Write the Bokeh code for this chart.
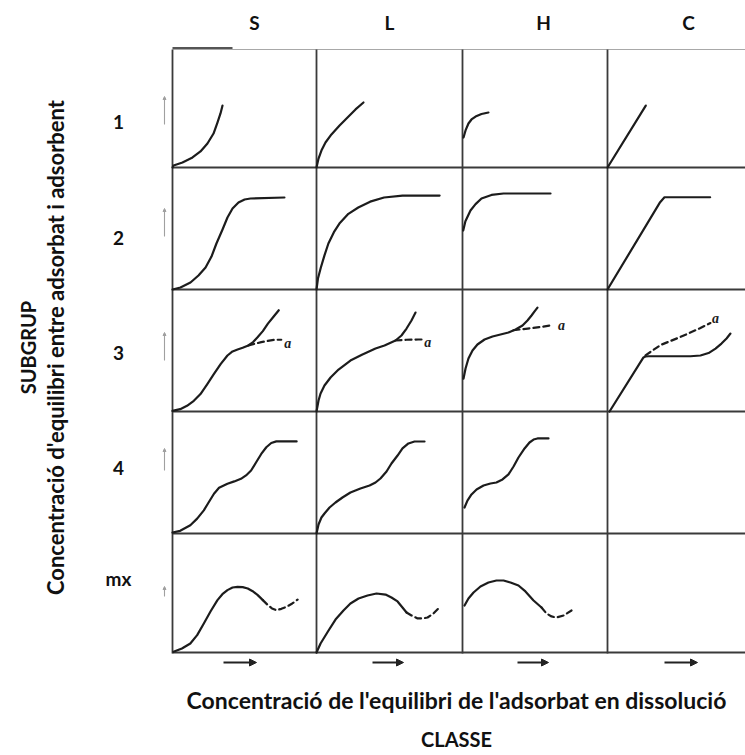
import math
from bokeh.plotting import figure
from bokeh.models import Range1d, Arrow, NormalHead
from bokeh.core.properties import value
from bokeh.embed import file_html
from bokeh.resources import INLINE

# ---------------- data ----------------
classes = ["S", "L", "H", "C"]
subgroups = ["1", "2", "3", "4", "mx"]
y_title = "Concentració d'equilibri entre adsorbat i adsorbent"
y_group = "SUBGRUP"
x_title = "Concentració de l'equilibri de l'adsorbat en dissolució"
x_group = "CLASSE"
plateau_mark = "a"

# each curve: concentration in solution (% of cell width) -> amount adsorbed (% of cell height)
# subgroup 1
S1_x = [0, 0.7, 6.9, 13.8, 19.3, 24.1, 28.3, 31, 33.1, 34.5]
S1_y = [0, 1.7, 4.2, 8.5, 13.6, 20.3, 28.8, 38.1, 45.8, 52.5]
L1_x = [0, 1.4, 3.4, 6.2, 10.3, 15.9, 21.4, 26.9, 32.4]
L1_y = [0, 7.6, 14.4, 21.2, 28, 35.6, 42.4, 49.2, 55.1]
H1_x = [0.7, 2.1, 4.1, 6.2, 9, 13.1, 17.9]
H1_y = [25.4, 31.4, 37.3, 40.7, 43.2, 45.3, 46.6]
C1_x = [0, 26.4]
C1_y = [0, 52.5]
# subgroup 2
S2_x = [0, 5.5, 12.4, 17.9, 22.8, 26.9, 30.3, 34.5, 37.9, 41.4, 45.5, 49.7, 53.8, 77.2]
S2_y = [0, 1.6, 5.7, 11.5, 18, 27, 37.7, 49.2, 59, 66.4, 71.3, 73.8, 74.6, 75.4]
L2_x = [0, 1, 3, 5.5, 8.2, 12, 15.8, 22, 28.8, 37, 46.6, 59.3, 84.9]
L2_y = [0, 9, 18, 28, 37.7, 47, 54, 62, 67.2, 72, 75.4, 77, 77]
H2_x = [0.5, 2, 5.5, 9, 13.1, 20, 28.3, 60.7]
H2_y = [48.4, 56, 64.8, 70, 74.6, 77.5, 78.7, 78.7]
C2_x = [0, 36.3, 39.3, 70.8]
C2_y = [0, 71.6, 75.6, 75.6]
# subgroup 3 (solid) and its branch "a" (dashed)
S3_x = [0, 5.3, 10, 14.7, 19.3, 24, 28.6, 33.3, 37.9, 41.4, 44.9, 48.4, 52.3, 55.6, 58.8, 62.3, 65.8, 69.5, 73.3]
S3_y = [0.5, 1.9, 4.7, 8.8, 14.3, 22.5, 30.8, 39, 45.9, 49.2, 50.8, 52.2, 54.1, 56.9, 61, 65.9, 72, 77.5, 83]
S3a_x = [52.3, 61.2, 70.5, 75]
S3a_y = [54.1, 56.9, 58.8, 58.8]
L3_x = [0, 1.4, 2.8, 5.5, 9.7, 15.2, 23.4, 31.7, 40.7, 46.9, 54.5, 58.6, 62.1, 65.5, 68.3]
L3_y = [0, 9, 14.8, 21.3, 27.9, 34.4, 41.8, 46.7, 51.6, 54.1, 58.2, 62.3, 68, 74.6, 81.1]
L3a_x = [54.5, 62, 70, 73.3]
L3a_y = [58.2, 58.8, 59, 59]
H3_x = [0.7, 2.1, 4.1, 6.9, 10.3, 15.2, 20.7, 26.2, 31.7, 36.6, 41.4, 44.8, 47.6, 49.7, 51.7]
H3_y = [27, 35.2, 43.4, 50, 54.9, 59, 61.5, 63.1, 64.8, 67.2, 70.5, 74.6, 78.7, 82, 85.2]
H3a_x = [35.2, 45, 55, 60.7]
H3a_y = [66.6, 68, 69.5, 70.5]
C3_x = [1.4, 24.8, 26.2, 28.3, 57.2, 64.1, 69.7, 74.5, 78.6, 82.1, 84.8]
C3_y = [0, 44.3, 45.1, 45.3, 45.3, 45.9, 47.9, 51.6, 55.7, 59.8, 63.9]
C3a_x = [26.2, 36.6, 50.3, 64.1, 71]
C3a_y = [46, 54.5, 61.1, 68.4, 72.5]
# subgroup 4
S4_x = [0, 5.3, 12.3, 17, 21.6, 25.1, 28.6, 32.1, 37.9, 42.6, 47.2, 50.7, 54.2, 57.7, 61.2, 64.7, 68.1, 71.6, 75.1, 85.6]
S4_y = [0.8, 2.2, 6.8, 12.2, 19, 25.8, 32.6, 37.5, 40.8, 42.7, 44.8, 47.6, 51.6, 58.4, 65.2, 70.7, 74.2, 75.5, 75.5, 75.5]
L4_x = [0, 1.4, 3.4, 5.5, 9, 13.1, 17.9, 23.4, 30.3, 36.6, 40.7, 44.1, 48.3, 51.7, 55.9, 59.3, 63.4, 67.6, 74.5]
L4_y = [0, 7.4, 13.1, 16.4, 21.3, 25.4, 29.5, 33.6, 36.9, 39.3, 41.8, 45.1, 50.8, 57.4, 63.9, 69.7, 73.8, 75.4, 75.4]
H4_x = [1.4, 3.4, 6.2, 9.7, 14.5, 19.3, 23.4, 27.6, 31.7, 35.2, 38.6, 42.8, 46.2, 49, 51.7, 59.3]
H4_y = [21.3, 27, 32, 36.1, 39.3, 41, 41.8, 44.3, 48.4, 54.9, 62.3, 69.7, 74.6, 77, 77.9, 77.9]
# subgroup mx (solid) and its continuation (dashed)
S5_x = [0.7, 6.5, 12.3, 17, 21.6, 26.3, 31, 34.4, 37.9, 41.4, 44.9, 48.4, 51.9, 55.3, 58.8, 62.3]
S5_y = [0.6, 3.4, 7.6, 14.6, 24.4, 34.7, 44, 49, 52.4, 54.6, 55.2, 54.9, 53.8, 51.5, 48.2, 44]
S5d_x = [62.3, 65.8, 68.6, 71.6, 75.1, 78.6, 82.6, 86.3]
S5d_y = [44, 39.8, 37, 35.6, 36.7, 38.4, 41.2, 44.5]
L5_x = [0, 2.8, 8.3, 13.1, 18.6, 23.4, 29, 35.2, 41.4, 47.6, 51.7, 55.9, 59.3, 62.1]
L5_y = [0, 7.6, 18.5, 27.7, 35.3, 41.2, 45.4, 47.9, 49.6, 48.7, 46.2, 42.9, 37.8, 33.6]
L5d_x = [62.1, 65.5, 69.7, 73.1, 76.6, 80.7, 84.1]
L5d_y = [33.6, 31.1, 28.6, 28.6, 29.4, 32.8, 37]
H5_x = [1.4, 4.1, 7.6, 12.4, 17.9, 23.4, 28.3, 33.1, 38.6, 43.4, 49, 54.5]
H5_y = [39.5, 45.4, 50.4, 55.5, 58.8, 60.5, 60.5, 58.8, 56.3, 51.3, 43.7, 37.8]
H5d_x = [54.5, 57.9, 61.4, 64.8, 69.7, 75.2]
H5d_y = [37.8, 32.8, 30.3, 29.4, 31.1, 35.3]

# (class index, subgroup index, xs, ys, dashed)
curves = [
    (0, 0, S1_x, S1_y, False), (1, 0, L1_x, L1_y, False), (2, 0, H1_x, H1_y, False), (3, 0, C1_x, C1_y, False),
    (0, 1, S2_x, S2_y, False), (1, 1, L2_x, L2_y, False), (2, 1, H2_x, H2_y, False), (3, 1, C2_x, C2_y, False),
    (0, 2, S3_x, S3_y, False), (1, 2, L3_x, L3_y, False), (2, 2, H3_x, H3_y, False), (3, 2, C3_x, C3_y, False),
    (0, 2, S3a_x, S3a_y, True), (1, 2, L3a_x, L3a_y, True), (2, 2, H3a_x, H3a_y, True), (3, 2, C3a_x, C3a_y, True),
    (0, 3, S4_x, S4_y, False), (1, 3, L4_x, L4_y, False), (2, 3, H4_x, H4_y, False),
    (0, 4, S5_x, S5_y, False), (1, 4, L5_x, L5_y, False), (2, 4, H5_x, H5_y, False),
    (0, 4, S5d_x, S5d_y, True), (1, 4, L5d_x, L5d_y, True), (2, 4, H5d_x, H5d_y, True),
]
# position of the "a" marks (class, subgroup, x%, y%)
a_marks = [(0, 2, 79.5, 56), (1, 2, 76.7, 56.5), (2, 2, 68.3, 70.5), (3, 2, 74.5, 76.5)]

# ---------------- layout ----------------
W, H = 745, 755
col_left = [172, 316, 462, 607]
col_w = 145
row_top = [49, 167, 289, 411, 533]
row_bot = [167, 289, 411, 533, 652]
grid_right = W

def cx(c, u):
    return col_left[c] + u / 100.0 * col_w

def cy(r, v):
    return row_bot[r] - v / 100.0 * (row_bot[r] - row_top[r])

p = figure(width=W, height=H, x_range=Range1d(0, W), y_range=Range1d(H, 0),
           output_backend="svg", toolbar_location=None, min_border=0,
           x_axis_location=None, y_axis_location=None)
p.grid.visible = False
p.outline_line_color = None
p.background_fill_color = "white"
p.border_fill_color = "white"

FONT = value("Lato")
INK = "#1c1c1c"
GRID = "#3a3a3a"
TXT = "#111111"

# grid
p.segment(x0=[col_left[0]], y0=[row_top[0]], x1=[grid_right], y1=[row_top[0]],
          line_color="#a8a8a8", line_width=1.2)
p.segment(x0=[col_left[0]], y0=[row_top[0] - 1.5], x1=[col_left[0] + 60], y1=[row_top[0] - 1.5],
          line_color="#555555", line_width=2)
p.segment(x0=col_left, y0=[row_top[0]] * 4, x1=col_left, y1=[row_bot[-1] + 1] * 4,
          line_color=GRID, line_width=1.8)
p.segment(x0=[col_left[0]] * 5, y0=row_bot, x1=[grid_right] * 5, y1=row_bot,
          line_color=GRID, line_width=1.8)

# curves
for c, r, xs, ys, dashed in curves:
    X = [cx(c, u) for u in xs]
    Y = [cy(r, v) for v in ys]
    p.line(X, Y, line_color=INK, line_width=2.2, line_join="round", line_cap="round",
           line_dash="6 4" if dashed else "solid")

for c, r, u, v in a_marks:
    p.text(x=[cx(c, u)], y=[cy(r, v)], text=[plateau_mark], text_font=value("Liberation Serif"),
           text_font_style="bold italic", text_font_size="14px", text_color=INK,
           text_align="center", text_baseline="middle")

# arrows under each column
arrow_off = [(51, 84), (56, 87), (55, 86), (57, 90)]
for c in range(4):
    a0, a1 = arrow_off[c]
    p.add_layout(Arrow(end=NormalHead(size=7, fill_color="#222222", line_color="#222222"),
                       x_start=col_left[c] + a0, y_start=662, x_end=col_left[c] + a1, y_end=662,
                       line_color="#222222", line_width=2))

# faint up-arrows left of each row
tick_y = [(124, 96), (236, 208), (360, 332), (470, 448), (596, 586)]
for y0, y1 in tick_y:
    p.add_layout(Arrow(end=NormalHead(size=3, fill_color="#a0a0a0", line_color="#a0a0a0"),
                       x_start=164, y_start=y0, x_end=164, y_end=y1,
                       line_color="#a0a0a0", line_width=1.1))

# labels
col_label_x = [254, 389, 543, 688]
p.text(x=col_label_x, y=[22] * 4, text=classes, text_font=FONT, text_font_style="bold",
       text_font_size="19px", text_color=TXT, text_align="center", text_baseline="middle")
row_label_y = [121, 237, 352, 467, 578]
p.text(x=[118] * 5, y=row_label_y, text=subgroups, text_font=FONT, text_font_style="bold",
       text_font_size="19px", text_color=TXT, text_align="center", text_baseline="middle")

p.text(x=[55], y=[347], text=[y_title], angle=math.pi / 2, text_font=FONT, text_font_style="bold",
       text_font_size="22px", text_color=TXT, text_align="center", text_baseline="middle")
p.text(x=[27], y=[347], text=[y_group], angle=math.pi / 2, text_font=FONT, text_font_style="bold",
       text_font_size="20px", text_color=TXT, text_align="center", text_baseline="middle")
p.text(x=[456], y=[699], text=[x_title], text_font=FONT, text_font_style="bold",
       text_font_size="23px", text_color=TXT, text_align="center", text_baseline="middle")
p.text(x=[456], y=[738], text=[x_group], text_font=FONT, text_font_style="bold",
       text_font_size="20px", text_color=TXT, text_align="center", text_baseline="middle")

open("out.html", "w").write(file_html(p, INLINE))
